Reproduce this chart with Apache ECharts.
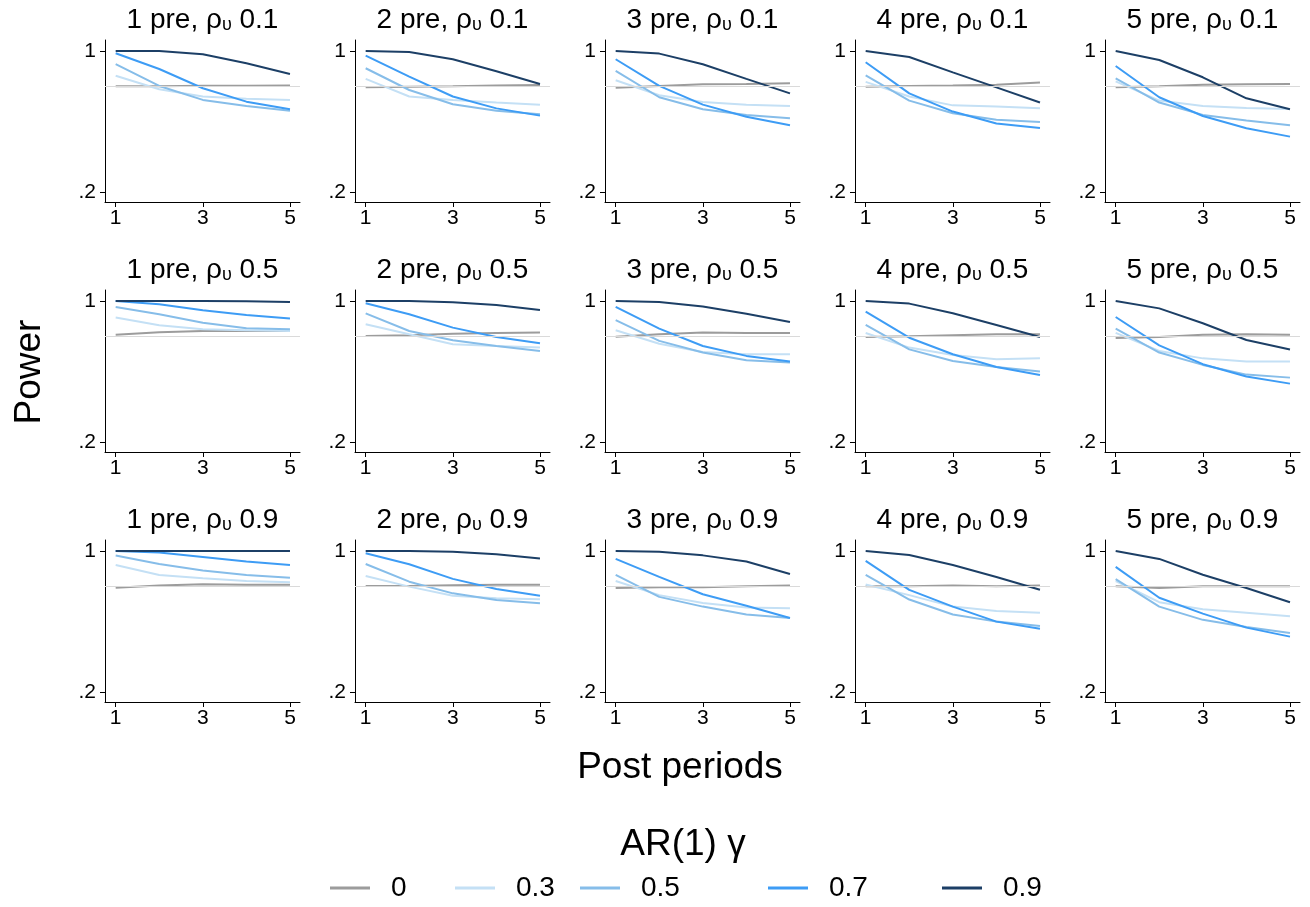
<!DOCTYPE html>
<html><head><meta charset="utf-8">
<script src="https://cdn.jsdelivr.net/npm/echarts@6/dist/echarts.min.js"></script>
<style>html,body{margin:0;padding:0;background:#fff}#c{width:1310px;height:907px}</style>
</head><body><div id="c"></div>
<script>
// ---- data ----
const postPeriods = [1, 2, 3, 4, 5];
const preLabels = ['1 pre', '2 pre', '3 pre', '4 pre', '5 pre'];
const rhoLabels = ['0.1', '0.5', '0.9'];
const gammaNames = ['0', '0.3', '0.5', '0.7', '0.9'];
const gammaColors = ['#9c9c9c', '#c4e0f5', '#86bde9', '#3d9cf5', '#1c3f66'];
const xTickValues = [1, 3, 5];
const yTickValues = [0.2, 1];
const yTickText = ['.2', '1'];
const referencePower = 0.8;

// panels in reading order: row rho 0.1 (pre 1..5), row rho 0.5, row rho 0.9
const power_g0 = [
  [0.800, 0.800, 0.803, 0.803, 0.805],
  [0.794, 0.798, 0.800, 0.804, 0.807],
  [0.792, 0.802, 0.811, 0.813, 0.817],
  [0.798, 0.802, 0.804, 0.808, 0.821],
  [0.794, 0.800, 0.808, 0.811, 0.813],
  [0.809, 0.823, 0.830, 0.830, 0.830],
  [0.802, 0.806, 0.815, 0.819, 0.821],
  [0.798, 0.811, 0.821, 0.819, 0.819],
  [0.796, 0.800, 0.806, 0.811, 0.811],
  [0.791, 0.796, 0.808, 0.811, 0.808],
  [0.792, 0.804, 0.811, 0.808, 0.808],
  [0.802, 0.802, 0.806, 0.808, 0.809],
  [0.790, 0.795, 0.795, 0.800, 0.805],
  [0.800, 0.800, 0.805, 0.800, 0.805],
  [0.800, 0.790, 0.800, 0.800, 0.800]
];
const power_g03 = [
  [0.860, 0.783, 0.742, 0.730, 0.723],
  [0.842, 0.742, 0.723, 0.708, 0.696],
  [0.834, 0.749, 0.711, 0.696, 0.689],
  [0.825, 0.742, 0.692, 0.685, 0.675],
  [0.828, 0.719, 0.689, 0.677, 0.672],
  [0.906, 0.862, 0.840, 0.834, 0.830],
  [0.868, 0.811, 0.755, 0.745, 0.736],
  [0.834, 0.758, 0.711, 0.698, 0.698],
  [0.819, 0.736, 0.694, 0.670, 0.675],
  [0.819, 0.717, 0.675, 0.657, 0.657],
  [0.921, 0.864, 0.845, 0.830, 0.823],
  [0.858, 0.798, 0.747, 0.732, 0.726],
  [0.830, 0.750, 0.705, 0.680, 0.675],
  [0.810, 0.750, 0.685, 0.660, 0.650],
  [0.830, 0.710, 0.670, 0.650, 0.630]
];
const power_g05 = [
  [0.925, 0.802, 0.723, 0.689, 0.662],
  [0.902, 0.779, 0.698, 0.662, 0.642],
  [0.887, 0.738, 0.670, 0.638, 0.619],
  [0.862, 0.719, 0.647, 0.611, 0.598],
  [0.845, 0.708, 0.638, 0.606, 0.579],
  [0.966, 0.925, 0.877, 0.845, 0.840],
  [0.930, 0.830, 0.777, 0.745, 0.717],
  [0.891, 0.774, 0.708, 0.664, 0.651],
  [0.864, 0.726, 0.660, 0.626, 0.600],
  [0.843, 0.708, 0.638, 0.583, 0.566],
  [0.974, 0.926, 0.889, 0.864, 0.849],
  [0.926, 0.826, 0.760, 0.723, 0.704],
  [0.865, 0.740, 0.685, 0.640, 0.620],
  [0.865, 0.725, 0.640, 0.600, 0.575],
  [0.840, 0.685, 0.610, 0.570, 0.535]
];
const power_g07 = [
  [0.987, 0.898, 0.789, 0.713, 0.670],
  [0.974, 0.855, 0.742, 0.675, 0.634],
  [0.953, 0.802, 0.696, 0.628, 0.579],
  [0.936, 0.760, 0.657, 0.589, 0.564],
  [0.915, 0.738, 0.632, 0.562, 0.515],
  [1.000, 0.981, 0.947, 0.921, 0.900],
  [0.987, 0.925, 0.849, 0.796, 0.760],
  [0.966, 0.843, 0.745, 0.689, 0.657],
  [0.940, 0.792, 0.698, 0.626, 0.581],
  [0.909, 0.749, 0.642, 0.572, 0.532],
  [1.000, 0.991, 0.966, 0.940, 0.921],
  [0.987, 0.925, 0.842, 0.785, 0.747],
  [0.955, 0.853, 0.755, 0.690, 0.620],
  [0.944, 0.780, 0.685, 0.600, 0.560],
  [0.910, 0.735, 0.645, 0.566, 0.515]
];
const power_g09 = [
  [1.000, 1.000, 0.981, 0.930, 0.870],
  [1.000, 0.994, 0.953, 0.885, 0.813],
  [1.000, 0.985, 0.925, 0.842, 0.760],
  [1.000, 0.966, 0.879, 0.794, 0.708],
  [1.000, 0.949, 0.851, 0.732, 0.670],
  [1.000, 1.000, 1.000, 0.998, 0.994],
  [1.000, 1.000, 0.992, 0.977, 0.949],
  [1.000, 0.994, 0.968, 0.928, 0.881],
  [1.000, 0.985, 0.930, 0.864, 0.796],
  [1.000, 0.958, 0.874, 0.779, 0.725],
  [1.000, 1.000, 1.000, 1.000, 1.000],
  [1.000, 1.000, 0.996, 0.981, 0.957],
  [1.000, 0.996, 0.975, 0.940, 0.870],
  [1.000, 0.977, 0.920, 0.853, 0.780],
  [1.000, 0.955, 0.865, 0.790, 0.710]
];
const powerByGamma = [power_g0, power_g03, power_g05, power_g07, power_g09];

// ---- layout ----
const FONT = '"Liberation Sans", Arial, Helvetica, sans-serif';
const gridLeft0 = 105, gridTop0 = 40, colStep = 250, rowStep = 250, gridW = 195, gridH = 162;
const legendLeft = [330, 455, 580, 768, 942];

const grids = [], xAxes = [], yAxes = [], series = [], graphics = [];
for (let r = 0; r < rhoLabels.length; r++) {
  for (let c = 0; c < preLabels.length; c++) {
    const p = r * preLabels.length + c;
    const left = gridLeft0 + c * colStep, top = gridTop0 + r * rowStep;
    grids.push({left: left, top: top, width: gridW, height: gridH});
    xAxes.push({
      type: 'value', gridIndex: p, min: 0.755, max: 5.23,
      axisLine: {show: true, onZero: false, lineStyle: {color: '#000', width: 1}},
      axisTick: {show: true, length: 5, customValues: xTickValues, lineStyle: {color: '#000'}},
      axisLabel: {customValues: xTickValues, fontSize: 21, color: '#000', fontFamily: FONT, margin: 6},
      splitLine: {show: false}
    });
    yAxes.push({
      type: 'value', gridIndex: p, min: 0.145, max: 1.062,
      axisLine: {show: true, lineStyle: {color: '#000', width: 1}},
      axisTick: {show: true, length: 5, customValues: yTickValues, lineStyle: {color: '#000'}},
      axisLabel: {customValues: yTickValues, fontSize: 21, color: '#000', fontFamily: FONT, margin: 9,
        formatter: v => yTickText[yTickValues.findIndex(t => Math.abs(t - v) < 1e-6)] || ''},
      splitLine: {show: false}
    });
    for (let k = 0; k < gammaNames.length; k++) {
      const s = {
        type: 'line', name: gammaNames[k], xAxisIndex: p, yAxisIndex: p,
        data: postPeriods.map((x, i) => [x, powerByGamma[k][p][i]]),
        symbol: 'none', silent: true, animation: false,
        lineStyle: {width: 2, color: gammaColors[k]}, itemStyle: {color: gammaColors[k]}
      };
      if (k === 0) {
        s.markLine = {silent: true, symbol: 'none', label: {show: false}, animation: false,
          lineStyle: {color: '#dadada', width: 1.2, type: 'solid'}, data: [{yAxis: referencePower}]};
      }
      series.push(s);
    }
    graphics.push({
      type: 'text', x: left + gridW / 2, y: 20 + r * rowStep,
      style: {
        text: '{m|' + preLabels[c] + ', ρ}{s|υ}{m| ' + rhoLabels[r] + '}',
        align: 'center', verticalAlign: 'middle',
        rich: {
          m: {fontSize: 28, fontFamily: FONT, fill: '#000', color: '#000'},
          s: {fontSize: 18, fontFamily: FONT, fill: '#000', color: '#000', verticalAlign: 'bottom'}
        }
      }
    });
  }
}
graphics.push({type: 'text', x: 30, y: 372, rotation: Math.PI / 2,
  style: {text: 'Power', fontSize: 37, fontFamily: FONT, fill: '#000', align: 'center', verticalAlign: 'middle'}});
graphics.push({type: 'text', x: 680, y: 768,
  style: {text: 'Post periods', fontSize: 37, fontFamily: FONT, fill: '#000', align: 'center', verticalAlign: 'middle'}});
graphics.push({type: 'text', x: 683, y: 845,
  style: {text: 'AR(1) γ', fontSize: 37, fontFamily: FONT, fill: '#000', align: 'center', verticalAlign: 'middle'}});

const legends = gammaNames.map((g, k) => ({
  data: [g], left: legendLeft[k], top: 874, icon: 'rect', itemWidth: 40, itemHeight: 3,
  selectedMode: false, padding: 0,
  textStyle: {fontSize: 28, fontFamily: FONT, color: '#000', padding: [0, 0, 0, 16]}
}));

const chart = echarts.init(document.getElementById('c'), null, {renderer: 'canvas'});
chart.setOption({
  animation: false,
  backgroundColor: '#fff',
  grid: grids, xAxis: xAxes, yAxis: yAxes, series: series,
  legend: legends, graphic: graphics
});
</script></body></html>
